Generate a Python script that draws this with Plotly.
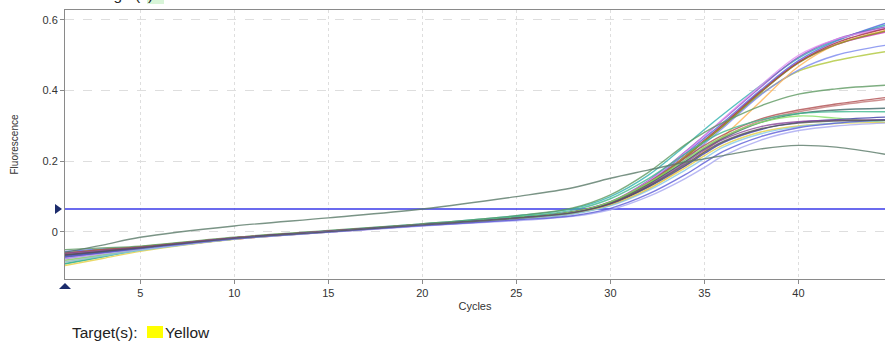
import plotly.graph_objects as go

cycles = [1, 3, 5, 10, 15, 20, 25, 28, 30, 32, 34, 35, 36, 38, 40, 42, 44.6]

curves = {
    "c01": [-0.055, -0.048, -0.042, -0.018, 0.002, 0.020, 0.040, 0.056, 0.082, 0.140, 0.222, 0.266, 0.310, 0.402, 0.485, 0.540, 0.590],
    "c02": [-0.090, -0.070, -0.050, -0.020, 0.003, 0.023, 0.046, 0.066, 0.100, 0.160, 0.245, 0.290, 0.333, 0.415, 0.492, 0.542, 0.585],
    "c03": [-0.070, -0.058, -0.046, -0.017, 0.002, 0.021, 0.041, 0.058, 0.086, 0.145, 0.228, 0.273, 0.318, 0.410, 0.495, 0.545, 0.580],
    "c04": [-0.075, -0.060, -0.048, -0.020, 0.000, 0.018, 0.036, 0.052, 0.078, 0.132, 0.212, 0.257, 0.302, 0.396, 0.480, 0.530, 0.565],
    "c05": [-0.080, -0.065, -0.050, -0.020, 0.000, 0.019, 0.038, 0.055, 0.084, 0.142, 0.226, 0.272, 0.320, 0.415, 0.500, 0.545, 0.575],
    "c06": [-0.065, -0.055, -0.045, -0.018, 0.001, 0.020, 0.040, 0.055, 0.082, 0.137, 0.216, 0.260, 0.305, 0.398, 0.480, 0.535, 0.575],
    "c07": [-0.060, -0.050, -0.042, -0.017, 0.002, 0.021, 0.040, 0.056, 0.083, 0.137, 0.214, 0.257, 0.300, 0.390, 0.455, 0.485, 0.510],
    "c08": [-0.070, -0.057, -0.045, -0.018, 0.001, 0.020, 0.040, 0.055, 0.080, 0.130, 0.205, 0.250, 0.295, 0.388, 0.458, 0.500, 0.528],
    "c09": [-0.085, -0.068, -0.050, -0.020, 0.000, 0.020, 0.038, 0.052, 0.076, 0.120, 0.188, 0.228, 0.270, 0.370, 0.468, 0.530, 0.570],
    "c10": [-0.060, -0.050, -0.042, -0.016, 0.002, 0.021, 0.041, 0.056, 0.082, 0.134, 0.212, 0.256, 0.300, 0.395, 0.478, 0.530, 0.568],
    "c11": [-0.050, -0.045, -0.040, -0.015, 0.004, 0.023, 0.046, 0.068, 0.105, 0.168, 0.248, 0.282, 0.310, 0.357, 0.390, 0.405, 0.415],
    "c12": [-0.060, -0.050, -0.043, -0.017, 0.002, 0.021, 0.040, 0.056, 0.085, 0.140, 0.210, 0.245, 0.275, 0.320, 0.345, 0.362, 0.380],
    "c13": [-0.065, -0.054, -0.045, -0.018, 0.001, 0.020, 0.039, 0.055, 0.083, 0.135, 0.200, 0.238, 0.268, 0.315, 0.340, 0.358, 0.375],
    "c14": [-0.070, -0.058, -0.047, -0.018, 0.001, 0.020, 0.040, 0.056, 0.084, 0.135, 0.200, 0.235, 0.265, 0.310, 0.335, 0.345, 0.350],
    "c15": [-0.090, -0.070, -0.052, -0.020, 0.001, 0.021, 0.043, 0.062, 0.094, 0.150, 0.222, 0.255, 0.283, 0.317, 0.335, 0.340, 0.340],
    "c16": [-0.080, -0.065, -0.050, -0.019, 0.001, 0.020, 0.040, 0.056, 0.085, 0.138, 0.205, 0.240, 0.270, 0.310, 0.328, 0.322, 0.310],
    "c17": [-0.065, -0.055, -0.045, -0.018, 0.001, 0.020, 0.039, 0.054, 0.079, 0.126, 0.188, 0.222, 0.253, 0.290, 0.310, 0.318, 0.325],
    "c18": [-0.060, -0.052, -0.044, -0.017, 0.002, 0.020, 0.039, 0.054, 0.080, 0.130, 0.196, 0.232, 0.262, 0.298, 0.312, 0.316, 0.318],
    "c19": [-0.095, -0.075, -0.055, -0.021, 0.000, 0.019, 0.037, 0.052, 0.076, 0.122, 0.182, 0.216, 0.246, 0.283, 0.300, 0.307, 0.310],
    "c20": [-0.085, -0.068, -0.052, -0.020, 0.000, 0.019, 0.037, 0.051, 0.074, 0.117, 0.176, 0.208, 0.240, 0.278, 0.298, 0.308, 0.315],
    "c21": [-0.075, -0.062, -0.050, -0.020, -0.001, 0.017, 0.032, 0.044, 0.063, 0.100, 0.152, 0.183, 0.215, 0.260, 0.287, 0.300, 0.308],
    "c22": [-0.070, -0.058, -0.047, -0.019, 0.000, 0.018, 0.034, 0.046, 0.067, 0.107, 0.163, 0.196, 0.228, 0.270, 0.295, 0.308, 0.318],
    "c23": [-0.065, -0.055, -0.045, -0.018, 0.001, 0.020, 0.039, 0.054, 0.080, 0.128, 0.192, 0.226, 0.256, 0.292, 0.308, 0.314, 0.316],
    "c24": [-0.057, -0.037, -0.015, 0.017, 0.040, 0.065, 0.100, 0.125, 0.152, 0.175, 0.198, 0.207, 0.216, 0.235, 0.245, 0.240, 0.220],
}

colors = {
    "c01": "#4f63e0", "c02": "#2fb2b0", "c03": "#8e4fc6", "c04": "#d52fc6",
    "c05": "#e08cf0", "c06": "#a02848", "c07": "#b0c83a", "c08": "#7a88f0",
    "c09": "#ffb454", "c10": "#8a8a22", "c11": "#5e9a62", "c12": "#b04e50",
    "c13": "#c47878", "c14": "#3f6868", "c15": "#3fb88e", "c16": "#84e062",
    "c17": "#3a3aa8", "c18": "#8a4698", "c19": "#e6d042", "c20": "#84c8e8",
    "c21": "#a8a8f2", "c22": "#5c5cd8", "c23": "#555555", "c24": "#5a7a68",
}

threshold = 0.065
x_ticks = [5, 10, 15, 20, 25, 30, 35, 40]
y_ticks = [0, 0.2, 0.4, 0.6]
y_tick_labels = ["0", "0.2", "0.4", "0.6"]

FONT = "Arial, Liberation Sans, sans-serif"

fig = go.Figure()

fig.add_trace(go.Scatter(x=[1, 44.6], y=[threshold, threshold], mode="lines",
                         line=dict(color="#3a3ae8", width=1.3), hoverinfo="skip"))

for k, vals in curves.items():
    fig.add_trace(go.Scatter(x=cycles, y=vals, mode="lines",
                             line=dict(color=colors[k], width=1.4, shape="spline", smoothing=1.0),
                             opacity=0.8))

fig.update_layout(
    width=885, height=344,
    margin=dict(l=65, r=0, t=10, b=65),
    paper_bgcolor="white", plot_bgcolor="white",
    showlegend=False,
    font=dict(family=FONT, size=11, color="#333333"),
    xaxis=dict(range=[1, 44.6], tickvals=x_ticks, showgrid=True, gridcolor="#dedede",
               griddash="dot", gridwidth=1, zeroline=False,
               showline=True, linecolor="#8a8a8a", linewidth=1, mirror=True,
               ticks="outside", ticklen=4, tickcolor="#8a8a8a",
               tickfont=dict(size=11, color="#333333"),
               title=dict(text="Cycles", font=dict(size=11, color="#333333"), standoff=4)),
    yaxis=dict(range=[-0.133, 0.628], tickvals=y_ticks, ticktext=y_tick_labels,
               showgrid=True, gridcolor="#dedede", griddash="dash", gridwidth=1,
               zeroline=False, showline=True, linecolor="#8a8a8a", linewidth=1,
               ticks="outside", ticklen=4, tickcolor="#8a8a8a",
               tickfont=dict(size=11, color="#333333"),
               title=dict(text="Fluorescence", font=dict(size=10, color="#333333"), standoff=22)),
)

def px_x(p):
    return (p - 65) / 820.0

def px_y(p):
    return (279 - p) / 269.0

# threshold marker (left) and baseline marker (bottom)
ty = 209
fig.add_shape(type="path", xref="paper", yref="paper",
              path=f"M {px_x(55)} {px_y(ty-5)} L {px_x(62)} {px_y(ty)} L {px_x(55)} {px_y(ty+5)} Z",
              fillcolor="#1c2c6c", line=dict(width=0))
fig.add_shape(type="path", xref="paper", yref="paper",
              path=f"M {px_x(59)} {px_y(289)} L {px_x(65)} {px_y(283)} L {px_x(71)} {px_y(289)} Z",
              fillcolor="#1c2c6c", line=dict(width=0))

fig.add_annotation(text="Target(s):", xref="paper", yref="paper", x=px_x(70), y=px_y(332),
                   xanchor="left", yanchor="middle", showarrow=False,
                   font=dict(size=15.5, color="#222222"))
fig.add_shape(type="rect", xref="paper", yref="paper", x0=px_x(147), x1=px_x(163),
              y0=px_y(338), y1=px_y(326), fillcolor="#ffff00", line=dict(width=0))
fig.add_annotation(text="Yellow", xref="paper", yref="paper", x=px_x(163), y=px_y(332),
                   xanchor="left", yanchor="middle", showarrow=False,
                   font=dict(size=15.5, color="#222222"))

# cropped legend at the very top
fig.add_annotation(text="Target(s):", xref="paper", yref="paper", x=px_x(90), y=px_y(-5),
                   xanchor="left", yanchor="middle", showarrow=False,
                   font=dict(size=15.5, color="#222222"))
fig.add_shape(type="rect", xref="paper", yref="paper", x0=px_x(147), x1=px_x(164),
              y0=px_y(4), y1=px_y(-8), fillcolor="#d8f5d8", line=dict(width=0))

fig.write_html("out.html", config={"displayModeBar": False},
               post_script="document.body.style.margin='0';document.body.style.overflow='hidden';")
